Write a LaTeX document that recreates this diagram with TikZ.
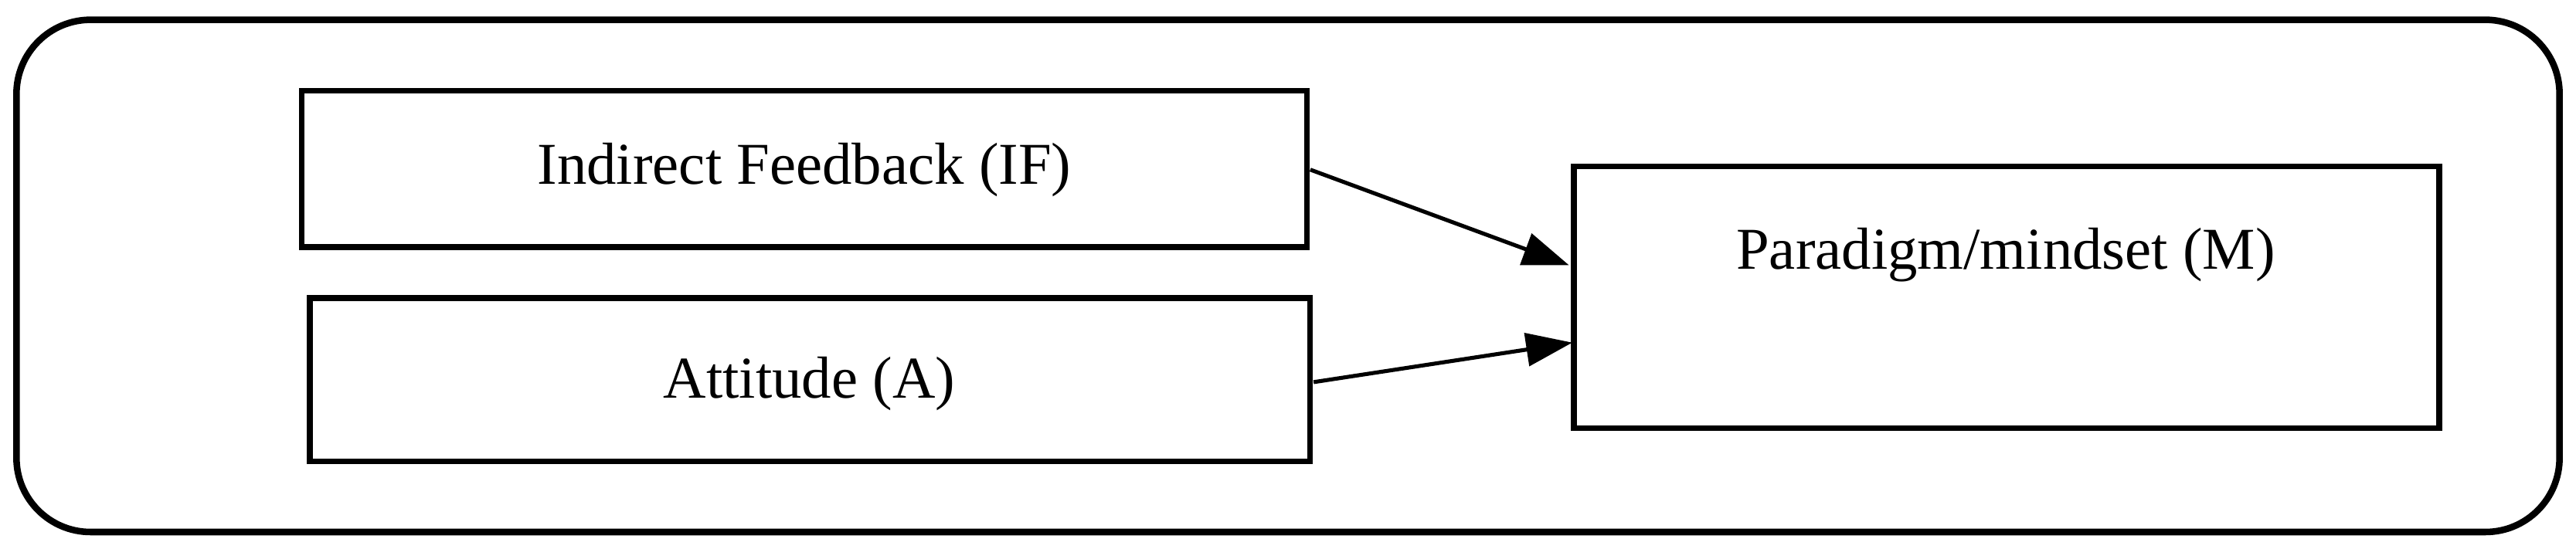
\documentclass[tikz,border=0pt]{standalone}
\usepackage{fontspec}
\setmainfont{Liberation Serif}
\usetikzlibrary{arrows.meta}
\begin{document}
\begin{tikzpicture}[x=1pt,y=-1pt,
  box/.style={draw,line width=3.4pt,inner sep=0pt},
  lbl/.style={font=\fontsize{36}{42}\selectfont},
  arr/.style={line width=2.4pt,-{Triangle[length=28pt,width=20pt]}}]
\useasboundingbox (0,0) rectangle (1563,333);
\draw[line width=4pt,rounded corners=45pt] (10,12) rectangle (1553,323);
\draw[box] (183,55) rectangle (793,150);
\draw[box] (188,181) rectangle (795,280);
\draw[box] (955,101) rectangle (1480,260);
\node[lbl] (if) at (488,103) {Indirect Feedback (IF)};
\node[lbl] (a) at (491,233) {Attitude (A)};
\node[lbl] (m) at (1217,155) {Paradigm/mindset (M)};
\coordinate (ifr) at (795,103);
\coordinate (ar) at (797,232);
\coordinate (m1) at (952,161);
\coordinate (m2) at (954,208);
\draw[arr] (ifr) -- (m1);
\draw[arr] (ar) -- (m2);
\end{tikzpicture}
\end{document}
